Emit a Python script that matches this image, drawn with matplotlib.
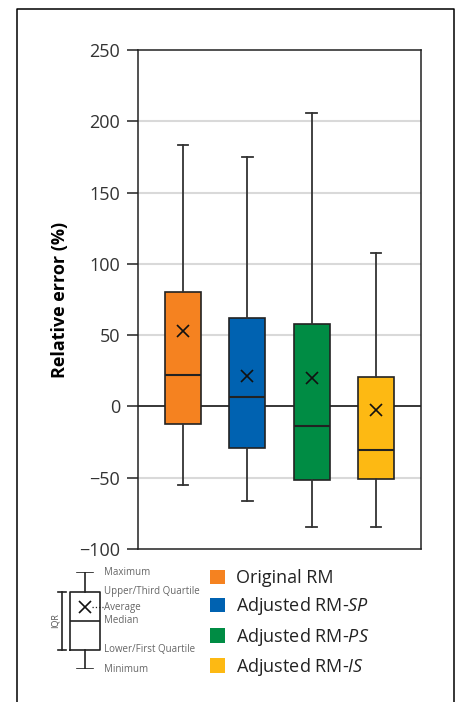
import matplotlib
matplotlib.use("Agg")
import matplotlib.pyplot as plt
from matplotlib.lines import Line2D
from matplotlib.patches import Patch

plt.rcParams['font.family'] = ['Open Sans', 'DejaVu Sans']
plt.rcParams['mathtext.fontset'] = 'custom'
plt.rcParams['mathtext.rm'] = 'Open Sans'
plt.rcParams['mathtext.it'] = 'Open Sans:italic'

# data (relative error, %)
labels = ['Original RM', 'Adjusted RM-$\\it{SP}$', 'Adjusted RM-$\\it{PS}$', 'Adjusted RM-$\\it{IS}$']
colors = ['#F58220', '#0062B1', '#008C44', '#FDB913']
mins = [-55.4, -66.4, -84.6, -84.6]
q1s = [-12.6, -29.2, -51.9, -51.2]
medians = [21.8, 6.6, -13.8, -30.9]
means = [52.8, 21.0, 20.0, -2.2]
q3s = [80.2, 62.3, 58.1, 20.9]
maxs = [183.7, 175.3, 205.7, 107.3]
yticks = [-100, -50, 0, 50, 100, 150, 200, 250]

# schematic key box (arbitrary units)
key_stats = {'whislo': 0, 'q1': 1, 'med': 2.5, 'mean': 3.2, 'q3': 4, 'whishi': 5}
key_labels = ['Maximum', 'Upper/Third Quartile', 'Average', 'Median',
              'Lower/First Quartile', 'Minimum']
key_values = [5, 4, 3.2, 2.5, 1, 0]

W, H = 459, 702
fig = plt.figure(figsize=(W / 100, H / 100), dpi=100)

ax = fig.add_axes([138 / W, 1 - 549 / H, 283 / W, 499 / H])

stats = []
for i in range(4):
    stats.append({'whislo': mins[i], 'q1': q1s[i], 'med': medians[i],
                  'mean': means[i], 'q3': q3s[i], 'whishi': maxs[i]})

positions = [1, 2, 3, 4]
bp = ax.bxp(stats, positions=positions, widths=0.56, capwidths=0.17,
            showmeans=True, showfliers=False, patch_artist=True,
            boxprops=dict(edgecolor='#222222', linewidth=1.2),
            whiskerprops=dict(color='#333333', linewidth=1.3),
            capprops=dict(color='#333333', linewidth=1.3),
            medianprops=dict(color='#222222', linewidth=1.5),
            meanprops=dict(marker='x', markeredgecolor='#111111',
                           markersize=8, markeredgewidth=1.2))
for patch, c in zip(bp['boxes'], colors):
    patch.set_facecolor(c)
    patch.set_zorder(3)
for k in ['medians', 'means', 'whiskers', 'caps']:
    for a in bp[k]:
        a.set_zorder(4)

ax.set_xlim(0.3, 4.7)
ax.set_ylim(-100, 250)
ax.set_yticks(yticks)
ax.set_xticks([])
for y in yticks[1:-1]:
    if y == 0:
        ax.axhline(0, color='black', linewidth=1.1, zorder=1)
    else:
        ax.axhline(y, color='#d9d9d9', linewidth=1.5, zorder=0)
ax.tick_params(axis='y', direction='out', length=8, width=1.1, pad=5,
               labelsize=13, labelcolor='#333333', color='#222222')
for s in ax.spines.values():
    s.set_linewidth(1.1)
    s.set_color('#222222')
ax.set_ylabel('Relative error (%)', fontsize=13, fontweight='bold', labelpad=7)

# key diagram
kax = fig.add_axes([40 / W, 1 - 669 / H, 90 / W, 96.7 / H])
kax.bxp([key_stats], positions=[0], widths=1, capwidths=0.53,
        showmeans=True, showfliers=False,
        boxprops=dict(color='#222222', linewidth=1.2),
        whiskerprops=dict(color='#222222', linewidth=1.2),
        capprops=dict(color='#222222', linewidth=1.2),
        medianprops=dict(color='#222222', linewidth=1.2),
        meanprops=dict(marker='x', markeredgecolor='#111111',
                       markersize=8, markeredgewidth=1.2))
kax.set_xlim(-1.5, 1.5)
kax.set_ylim(0, 5)
kax.axis('off')
kax.plot([0.22, 0.6], [3.2, 3.2], linestyle=':', color='#222222', linewidth=0.9)
kax.plot([-0.757, -0.757], [1, 4], color='#222222', linewidth=1.2)
kax.plot([-0.9, -0.64], [1, 1], color='#222222', linewidth=1.2)
kax.plot([-0.9, -0.64], [4, 4], color='#222222', linewidth=1.2)
kax.text(-1.0, 2.5, 'IQR', rotation=90, ha='center', va='center',
         fontsize=6.5, color='#555555')
for lab, v in zip(key_labels, key_values):
    kax.text(0.63, v, lab, ha='left', va='center', fontsize=7,
             color='#666666', clip_on=False)

# colour legend
handles = [Patch(facecolor=c, edgecolor='none') for c in colors]
fig.legend(handles, labels, loc='upper left',
           bbox_to_anchor=(201 / W, 1 - 560 / H), frameon=False,
           fontsize=13, handlelength=0.85, handleheight=0.85,
           handletextpad=0.6, labelspacing=0.46, borderpad=0,
           labelcolor='#222222')

# outer frame (open at the bottom)
fig.add_artist(Line2D([17 / W, 17 / W, 454 / W, 454 / W],
                      [0, 1 - 9 / H, 1 - 9 / H, 0],
                      color='black', linewidth=1.1))

fig.savefig('out.png', dpi=100)
